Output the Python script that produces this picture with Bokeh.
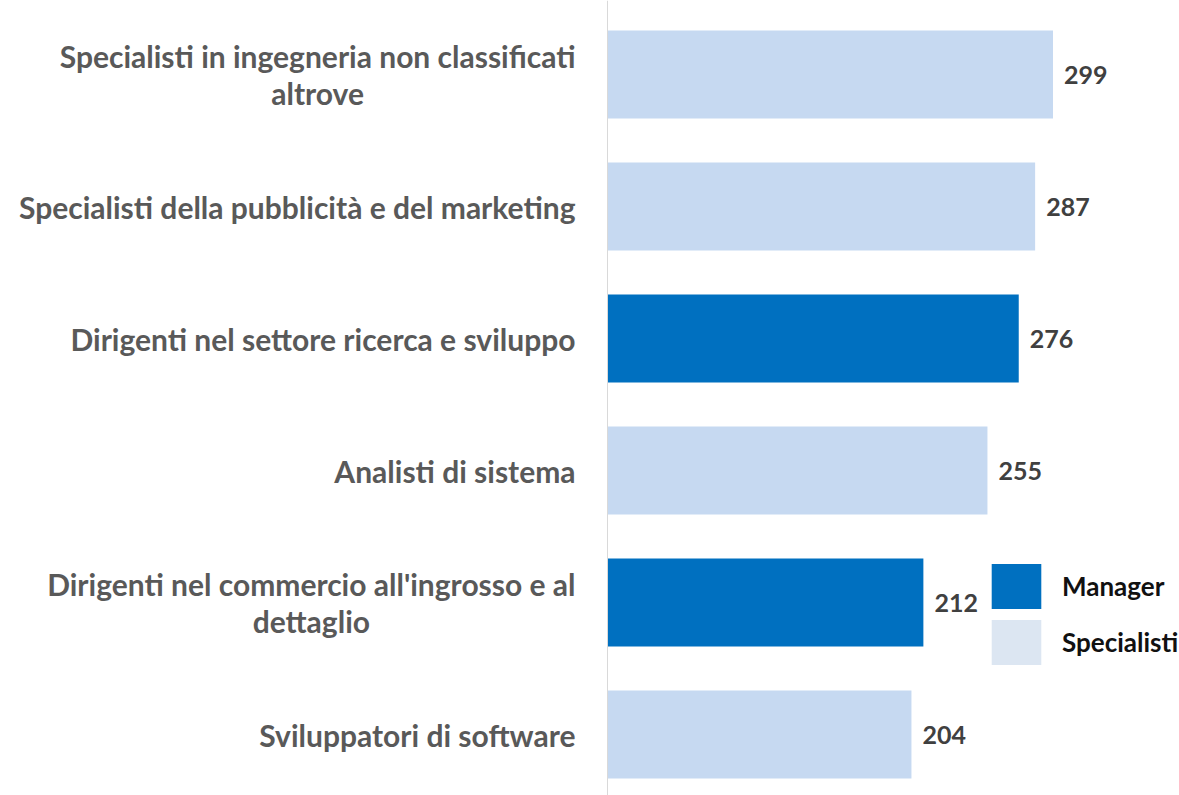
from bokeh.plotting import figure
from bokeh.models import ColumnDataSource, Range1d, Span, Legend, LegendItem
from bokeh.core.properties import value
from bokeh.embed import file_html
from bokeh.resources import INLINE

categories = [
    "Specialisti in ingegneria non classificati\naltrove",
    "Specialisti della pubblicità e del marketing",
    "Dirigenti nel settore ricerca e sviluppo",
    "Analisti di sistema",
    "Dirigenti nel commercio all'ingrosso e al\ndettaglio",
    "Sviluppatori di software",
]
values = [299, 287, 276, 255, 212, 204]
groups = ["Specialisti", "Specialisti", "Manager", "Specialisti", "Manager", "Specialisti"]
legend_labels = ["Manager", "Specialisti"]

colors = {"Manager": "#0070c0", "Specialisti": "#c6d9f1"}
legend_colors = {"Manager": "#0070c0", "Specialisti": "#dce6f2"}

W, H = 1179, 795
scale = 1.49      # px per unit
zero_px = 607     # screen x of value 0
band = 132.0      # px per category
top_center = 74   # screen y of first category centre

p = figure(width=W, height=H, output_backend="svg", toolbar_location=None,
           x_range=Range1d(-zero_px / scale, (W - zero_px) / scale),
           y_range=Range1d(-top_center / band + H / band, -top_center / band),
           min_border=0, min_border_left=0, min_border_right=0,
           min_border_top=0, min_border_bottom=0)
p.axis.visible = False
p.grid.visible = False
p.outline_line_color = None
p.background_fill_color = "white"

ys = list(range(len(categories)))
srcs = {}
for g in legend_labels:
    idx = [i for i in ys if groups[i] == g]
    srcs[g] = ColumnDataSource(dict(y=[ys[i] for i in idx], v=[values[i] for i in idx]))
    p.hbar(y="y", right="v", left=0, height=88 / band, source=srcs[g],
           fill_color=colors[g], line_color=None)

p.add_layout(Span(location=0, dimension="height", line_color="#d9d9d9", line_width=1))

lab_src = ColumnDataSource(dict(y=ys, t=categories, x=[0] * len(ys)))
p.text(x="x", y="y", text="t", source=lab_src, x_offset=-32, y_offset=0,
       text_align="center", anchor=value("center_right"), text_baseline="middle",
       text_font=value("Lato"), text_font_style="bold", text_font_size="30px",
       text_color="#595959", text_line_height=1.03)

val_src = ColumnDataSource(dict(y=ys, v=values, t=[str(v) for v in values]))
p.text(x="v", y="y", text="t", source=val_src, x_offset=11,
       text_align="left", text_baseline="middle",
       text_font=value("Lato"), text_font_style="bold", text_font_size="25px",
       text_color="#404040")

# legend proxies (hidden) carrying the legend swatch colours
proxies = []
for g in legend_labels:
    r = p.hbar(y="y", right="v", left=0, height=0.5, source=srcs[g],
               fill_color=legend_colors[g], line_color=None)
    r.visible = False
    proxies.append(r)

legend = Legend(items=[LegendItem(label=g, renderers=[r], index=0) for g, r in zip(legend_labels, proxies)],
                location=(985, 125), orientation="vertical",
                glyph_width=62, glyph_height=56, spacing=0, padding=0, margin=0,
                label_standoff=15, label_text_font="Lato",
                label_text_font_style="bold", label_text_font_size="26px",
                label_text_color="#111111", border_line_color=None,
                background_fill_alpha=0, label_height=56, click_policy="none")
p.add_layout(legend, "center")

open("out.html", "w").write(file_html(p, INLINE))
